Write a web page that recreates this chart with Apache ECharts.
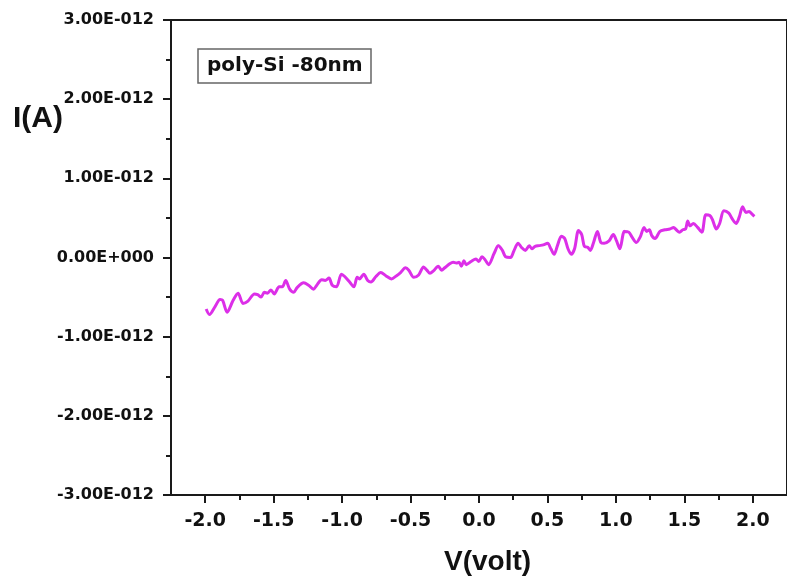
<!DOCTYPE html>
<html>
<head>
<meta charset="utf-8">
<script src="https://cdn.jsdelivr.net/npm/echarts@6/dist/echarts.min.js"></script>
<style>html,body{margin:0;padding:0;background:#fff;}#c{width:787px;height:580px;}</style>
</head>
<body>
<div id="c"></div>
<script>
// Voltage (V)
const voltage = [-1.993,-1.969,-1.928,-1.892,-1.873,-1.840,-1.796,-1.760,-1.724,-1.688,-1.640,-1.617,-1.592,-1.568,-1.545,-1.520,-1.496,-1.460,-1.437,-1.412,-1.383,-1.353,-1.329,-1.281,-1.245,-1.209,-1.185,-1.149,-1.124,-1.096,-1.072,-1.041,-1.005,-0.981,-0.945,-0.914,-0.890,-0.873,-0.842,-0.813,-0.789,-0.753,-0.717,-0.681,-0.640,-0.602,-0.573,-0.537,-0.513,-0.477,-0.441,-0.405,-0.381,-0.358,-0.333,-0.297,-0.273,-0.250,-0.214,-0.189,-0.165,-0.146,-0.129,-0.110,-0.094,-0.058,-0.022,-0.002,0.022,0.045,0.070,0.110,0.142,0.171,0.194,0.230,0.254,0.286,0.309,0.338,0.367,0.386,0.410,0.439,0.470,0.501,0.525,0.549,0.573,0.602,0.626,0.650,0.674,0.698,0.727,0.750,0.770,0.794,0.813,0.837,0.865,0.890,0.914,0.950,0.981,1.005,1.029,1.063,1.094,1.117,1.149,1.178,1.206,1.225,1.245,1.261,1.286,1.322,1.358,1.394,1.422,1.441,1.465,1.489,1.509,1.525,1.542,1.566,1.597,1.628,1.657,1.686,1.705,1.734,1.758,1.789,1.825,1.849,1.878,1.901,1.926,1.950,1.973,1.993,2.012];
// Current in units of 1E-012 A
const currentPA = [-0.65,-0.72,-0.62,-0.53,-0.54,-0.69,-0.54,-0.45,-0.58,-0.55,-0.46,-0.47,-0.50,-0.44,-0.45,-0.41,-0.46,-0.37,-0.37,-0.29,-0.40,-0.44,-0.38,-0.32,-0.35,-0.40,-0.35,-0.28,-0.29,-0.26,-0.35,-0.37,-0.21,-0.24,-0.31,-0.37,-0.25,-0.27,-0.21,-0.29,-0.31,-0.24,-0.19,-0.23,-0.27,-0.23,-0.19,-0.13,-0.16,-0.25,-0.22,-0.12,-0.16,-0.20,-0.17,-0.11,-0.16,-0.13,-0.08,-0.06,-0.07,-0.06,-0.11,-0.04,-0.09,-0.05,-0.02,-0.05,0.01,-0.03,-0.09,0.05,0.15,0.09,0.01,0.00,0.08,0.18,0.13,0.09,0.15,0.11,0.14,0.15,0.16,0.18,0.11,0.04,0.15,0.27,0.24,0.11,0.04,0.11,0.34,0.29,0.14,0.13,0.09,0.19,0.33,0.19,0.18,0.21,0.29,0.21,0.11,0.33,0.32,0.26,0.19,0.26,0.38,0.33,0.35,0.28,0.24,0.33,0.35,0.36,0.38,0.35,0.32,0.35,0.36,0.46,0.40,0.43,0.38,0.32,0.54,0.53,0.48,0.36,0.43,0.59,0.56,0.49,0.43,0.51,0.64,0.57,0.58,0.55,0.52];
const xMajorTicks = [-2.0,-1.5,-1.0,-0.5,0.0,0.5,1.0,1.5,2.0];
const xMinorTicks = [-1.75,-1.25,-0.75,-0.25,0.25,0.75,1.25,1.75];
const seriesLabel = 'poly-Si -80nm';

const points = voltage.map((v, i) => [v, currentPA[i]]);
const axisColor = '#1a1a1a';
const numFont = 'DejaVu Sans';

const chart = echarts.init(document.getElementById('c'), null, {renderer: 'canvas'});
chart.setOption({
  animation: false,
  backgroundColor: '#ffffff',
  title: {
    text: seriesLabel,
    left: 198, top: 49,
    padding: [5, 9],
    borderColor: '#666',
    borderWidth: 1.5,
    textStyle: {fontFamily: numFont, fontWeight: 'bold', fontSize: 20, lineHeight: 24, color: '#111'}
  },
  grid: {
    left: 171, top: 20, width: 625, height: 475,
    show: true, borderColor: axisColor, borderWidth: 2, backgroundColor: 'transparent'
  },
  xAxis: [{
    type: 'value', min: -2.25, max: 2.25, position: 'bottom',
    axisLine: {show: true, onZero: false, lineStyle: {color: axisColor, width: 2}},
    splitLine: {show: false},
    axisTick: {show: true, length: 8, customValues: xMajorTicks, lineStyle: {color: axisColor, width: 2}},
    axisLabel: {
      customValues: xMajorTicks, margin: 17,
      fontFamily: numFont, fontWeight: 'bold', fontSize: 19, color: '#111',
      formatter: v => v.toFixed(1)
    }
  }, {
    type: 'value', min: -2.25, max: 2.25, position: 'bottom', offset: 0,
    axisLine: {show: false, onZero: false},
    splitLine: {show: false},
    axisTick: {show: true, length: 5, customValues: xMinorTicks, lineStyle: {color: axisColor, width: 2}},
    axisLabel: {show: false}
  }],
  yAxis: {
    type: 'value', min: -3, max: 3, interval: 1,
    axisLine: {show: true, onZero: false, lineStyle: {color: axisColor, width: 2}},
    splitLine: {show: false},
    axisTick: {show: true, length: 8, lineStyle: {color: axisColor, width: 2}},
    minorTick: {show: true, splitNumber: 2, length: 5, lineStyle: {color: axisColor, width: 2}},
    axisLabel: {
      margin: 17, fontFamily: numFont, fontWeight: 'bold', fontSize: 16, color: '#111',
      formatter: v => Math.abs(v) < 1e-9 ? '0.00E+000' : v.toFixed(2) + 'E-012'
    }
  },
  graphic: [
    {type: 'text', left: 13, top: 104, style: {text: 'I(A)', fontFamily: 'Liberation Sans', fontWeight: 'bold', fontSize: 30, fill: '#111'}},
    {type: 'text', left: 444, top: 548, style: {text: 'V(volt)', fontFamily: 'Liberation Sans', fontWeight: 'bold', fontSize: 28, fill: '#111'}}
  ],
  series: [{
    type: 'line', name: seriesLabel, data: points,
    showSymbol: false, smooth: 0.3,
    lineStyle: {color: '#dc2fe8', width: 3},
    xAxisIndex: 0, yAxisIndex: 0
  }]
});
</script>
</body>
</html>
